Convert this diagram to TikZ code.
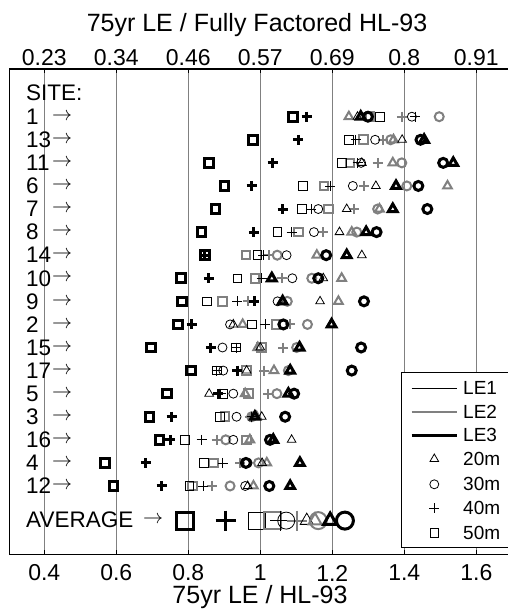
\documentclass[tikz,border=0pt]{standalone}
\usepackage{fontspec}
\usepackage{graphicx}
\setmainfont{Liberation Sans}
\usetikzlibrary{plotmarks}

% one marker of a series per site row
\newcommand{\siteplot}[2]{\foreach \v [count=\k] in {#2} {\draw[#1] plot[only marks] coordinates {(\v,\k)};}}
\newcommand{\sitearrow}{\resizebox{20pt}{!}{$\rightarrow$}}

\begin{document}
\begin{tikzpicture}[x=1pt,y=-1pt,line join=miter]
	\tikzstyle{txt}=[inner sep=0pt,font=\fontsize{23}{26}\selectfont];
	\tikzstyle{ttl}=[inner sep=0pt,font=\fontsize{25}{28}\selectfont];
	\tikzstyle{sitetxt}=[inner sep=0pt,anchor=west,font=\fontsize{22.5}{25}\selectfont];
	\tikzstyle{arr}=[inner sep=0pt];
	\tikzstyle{keytxt}=[inner sep=0pt,anchor=west,font=\fontsize{19}{22}\selectfont];
	\tikzstyle{grid}=[draw=gray,line width=0.9pt];
	\tikzstyle{le1}=[draw=black,line width=0.8pt];
	\tikzstyle{le2}=[draw=gray,line width=2pt];
	\tikzstyle{le3}=[draw=black,line width=3pt];
	\tikzstyle{tri}=[mark=triangle,mark size=5pt];
	\tikzstyle{ci}=[mark=o,mark size=4.5pt];
	\tikzstyle{pl}=[mark=+,mark size=5pt];
	\tikzstyle{sq}=[mark=square,mark size=4.3pt];
	\useasboundingbox (0,0) rectangle (508,610);
	\fill[white] (0,0) rectangle (508,610);

	\node[ttl] (title) at (257,25) {75yr LE / Fully Factored HL-93};
	\node[ttl] (xlabel) at (260,597) {75yr LE / HL-93};

	% grid, ticks and both scales
	\foreach \v/\t [count=\i] in {0.4/0.23,0.6/0.34,0.8/0.46,1/0.57,1.2/0.69,1.4/0.8,1.6/0.91} {
		\pgfmathsetmacro\px{360*\v-99.7}
		\draw[grid] (\px,69) -- (\px,554);
		\draw[line width=0.6pt] (\px,69) -- +(0,4);
		\draw[line width=0.6pt] (\px,554) -- +(0,-4);
		\node[txt] (top\i) at (\px,58) {\t};
		\node[txt] (bot\i) at (\px,573) {\v};
	}

	% site names
	\node[sitetxt] (sitehead) at (26,93) {SITE:};
	\foreach \s [count=\k] in {1,13,11,6,7,8,14,10,9,2,15,17,5,3,16,4,12} {
		\node[sitetxt] (site\k) at (26,{93.62+23.08*\k}) {\s};
		\node[arr] (arr\k) at (62,{93.62+23.08*\k}) {\sitearrow};
	}
	\node[sitetxt] (avg) at (26,519.5) {AVERAGE};
	\node[arr] (avgarr) at (153,519.5) {\sitearrow};

	\begin{scope}[shift={(-99.7,93.62)},x=360pt,y=-23.08pt]
		% LE2
		\siteplot{le2,tri}{1.246,1.370,1.368,1.520,1.331,1.254,1.157,1.226,1.217,0.951,0.993,1.038,0.958,0.990,0.971,1.018,0.981}
		\siteplot{le2,ci}{1.497,1.362,1.393,1.407,1.326,1.268,1.047,1.143,1.075,1.131,1.101,1.078,1.046,0.976,0.904,0.995,0.916}
		\siteplot{le2,pl}{1.393,1.342,1.326,1.288,1.260,1.175,1.025,1.059,0.967,1.083,1.064,1.010,1.022,0.970,0.879,0.944,0.865}
		\siteplot{le2,sq}{1.305,1.286,1.249,1.177,1.189,1.106,0.960,0.985,0.895,1.044,1.004,0.962,0.967,0.902,0.962,0.870,0.812}
		% LE1
		\siteplot{le1,tri}{1.270,1.394,1.282,1.321,1.240,1.220,1.282,1.175,1.166,0.925,1.000,0.962,0.858,1.004,1.087,1.005,0.965}
		\siteplot{le1,ci}{1.421,1.319,1.280,1.257,1.161,1.149,1.073,1.089,1.048,0.916,0.895,0.897,0.925,0.934,0.925,0.965,0.958}
		\siteplot{le1,pl}{1.430,1.265,1.270,1.194,1.141,1.087,1.008,1.004,0.936,1.013,0.933,0.879,0.890,0.976,0.837,0.895,0.842}
		\siteplot{le1,sq}{1.332,1.246,1.226,1.119,1.115,1.047,0.992,0.936,0.851,0.976,0.933,0.879,0.897,0.888,0.791,0.844,0.803}
		% LE3
		\siteplot{le3,tri}{1.279,1.455,1.536,1.377,1.368,1.294,1.240,1.032,1.062,1.198,1.109,1.083,1.078,0.985,1.036,1.110,1.083}
		\siteplot{le3,ci}{1.299,1.445,1.508,1.439,1.464,1.323,1.183,1.161,1.288,1.064,1.280,1.254,1.094,1.069,1.027,0.960,1.025}
		\siteplot{le3,pl}{1.129,1.106,1.034,0.976,1.062,0.982,0.846,0.857,0.983,0.809,0.863,0.936,0.883,0.754,0.750,0.682,0.726}
		\siteplot{le3,sq}{1.091,0.979,0.858,0.900,0.876,0.837,0.846,0.779,0.782,0.772,0.697,0.807,0.740,0.692,0.720,0.569,0.592}

		% averages
		\draw[le1,sq,mark size=8.5pt] plot[only marks] coordinates {(0.990,18.5)};
		\draw[le2,sq,mark size=8.5pt] plot[only marks] coordinates {(1.034,18.5)};
		\draw[le3,sq,mark size=8.5pt] plot[only marks] coordinates {(0.791,18.5)};
		\draw[le1,pl,mark size=10pt] plot[only marks] coordinates {(1.055,18.5)};
		\draw[le2,pl,mark size=10pt] plot[only marks] coordinates {(1.101,18.5)};
		\draw[le3,pl,mark size=10pt] plot[only marks] coordinates {(0.904,18.5)};
		\draw[le1,ci,mark size=8.5pt] plot[only marks] coordinates {(1.072,18.5)};
		\draw[le2,ci,mark size=8.5pt] plot[only marks] coordinates {(1.161,18.5)};
		\draw[le1,tri,mark size=7.5pt] plot[only marks] coordinates {(1.129,18.5)};
		\draw[le2,tri,mark size=7.5pt] plot[only marks] coordinates {(1.152,18.5)};
		\draw[le3,tri,mark size=7.5pt] plot[only marks] coordinates {(1.194,18.5)};
		\draw[le3,ci,mark size=8.5pt] plot[only marks] coordinates {(1.235,18.5)};
	\end{scope}

	% legend
	\draw[fill=white,line width=1pt] (401.7,372.7) rectangle (508,547.3);
	\foreach \st/\t/\yy in {le1/LE1/388.3,le2/LE2/412.3,le3/LE3/435} {
		\coordinate (\t a) at (411.7,\yy);
		\coordinate (\t b) at (457.3,\yy);
		\draw[\st] (\t a) -- (\t b);
		\node[keytxt] (key\t) at (463,\yy) {\t};
	}
	\foreach \mk/\t/\yy in {tri/20m/459,ci/30m/484.3,pl/40m/508.3,sq/50m/532.7} {
		\draw[le1,\mk] plot[only marks] coordinates {(434.3,\yy)};
		\node[keytxt] (key\t) at (463,\yy) {\t};
	}

	% axes box
	\draw[line width=1pt] (9.5,69) rectangle (508,554);
\end{tikzpicture}
\end{document}
